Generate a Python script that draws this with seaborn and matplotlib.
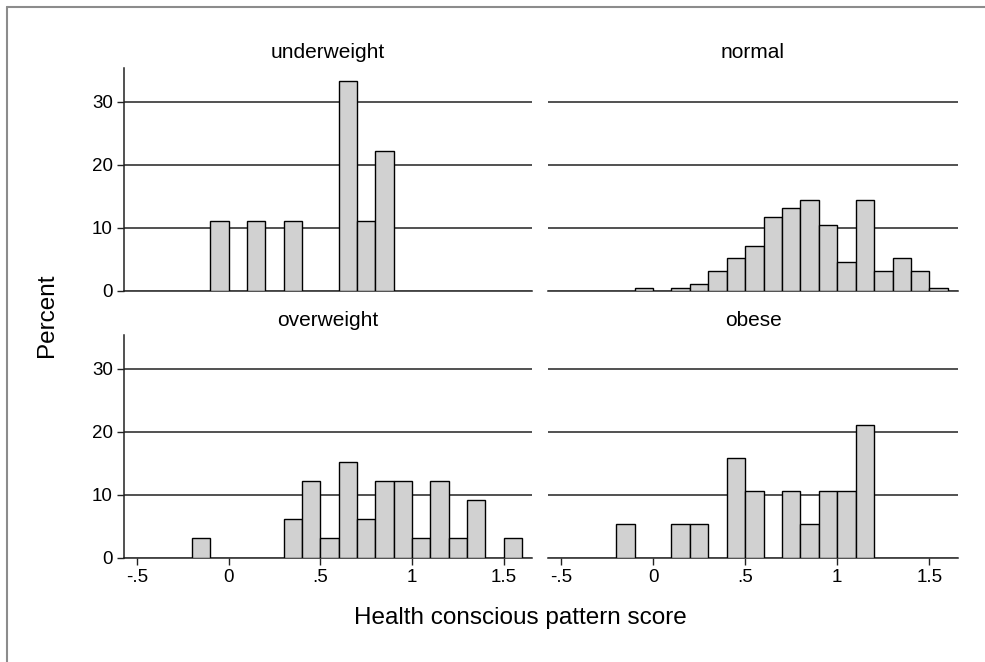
import numpy as np
import pandas as pd
import seaborn as sns
import matplotlib.pyplot as plt
from matplotlib.lines import Line2D

# ---- data (percent per bin; bins of width 0.1, given by left edge) ----
groups = ["underweight", "normal", "overweight", "obese"]

under_left = [-0.1, 0.1, 0.3, 0.6, 0.7, 0.8]
under_pct = [11.11, 11.11, 11.11, 33.33, 11.11, 22.22]

normal_left = [-0.1, 0.1, 0.2, 0.3, 0.4, 0.5, 0.6, 0.7, 0.8, 0.9, 1.0, 1.1, 1.2, 1.3, 1.4, 1.5]
normal_pct = [0.43, 0.43, 1.06, 3.09, 5.16, 7.13, 11.65, 13.2, 14.47, 10.43, 4.57, 14.47, 3.09, 5.16, 3.09, 0.43]

over_left = [-0.2, 0.3, 0.4, 0.5, 0.6, 0.7, 0.8, 0.9, 1.0, 1.1, 1.2, 1.3, 1.5]
over_pct = [3.03, 6.06, 12.12, 3.03, 15.15, 6.06, 12.12, 12.12, 3.03, 12.12, 3.03, 9.09, 3.03]

obese_left = [-0.2, 0.1, 0.2, 0.4, 0.5, 0.7, 0.8, 0.9, 1.0, 1.1]
obese_pct = [5.26, 5.26, 5.26, 15.79, 10.53, 10.53, 5.26, 10.53, 10.53, 21.05]

xticks = [-0.5, 0, 0.5, 1, 1.5]
xticklabels = ["-.5", "0", ".5", "1", "1.5"]
yticks = [0, 10, 20, 30]
yticklabels = ["0", "10", "20", "30"]

rows = []
for g_name, lefts, pcts in [("underweight", under_left, under_pct),
                            ("normal", normal_left, normal_pct),
                            ("overweight", over_left, over_pct),
                            ("obese", obese_left, obese_pct)]:
    for l, p in zip(lefts, pcts):
        rows.append({"group": g_name, "score": l + 0.05, "pct": p})
df = pd.DataFrame(rows)

sns.set_theme(style="white")
plt.rcParams["font.family"] = ["Liberation Sans", "DejaVu Sans"]

g = sns.FacetGrid(df, col="group", col_wrap=2, col_order=groups,
                  sharex=True, sharey=True, despine=False)
g.map_dataframe(sns.histplot, x="score", weights="pct",
                binwidth=0.1, binrange=(-0.6, 1.7),
                color="#d1d1d1", edgecolor="black", linewidth=1.0, alpha=1.0,
                zorder=3)

fig = g.figure
fig.set_size_inches(9.85, 6.62)
W, H = 985, 662

def px_rect(l, t, r, b):
    return [l / W, 1 - b / H, (r - l) / W, (b - t) / H]

positions = {
    "underweight": px_rect(124, 68, 532, 290.5),
    "normal": px_rect(548, 68, 958, 290.5),
    "overweight": px_rect(124, 334.5, 532, 557.5),
    "obese": px_rect(548, 334.5, 958, 557.5),
}
title_y = {"underweight": 52, "normal": 52, "overweight": 320, "obese": 320}

for name, ax in zip(groups, g.axes.flat):
    ax.set_position(positions[name])
    ax.set_xlim(-0.57, 1.655)
    ax.set_ylim(0, 35.4)
    ax.set_title("")
    ax.set_xlabel("")
    ax.set_ylabel("")
    for y in [10, 20, 30]:
        ax.axhline(y, color="#222222", lw=1.1, zorder=1)
    for s in ["top", "right"]:
        ax.spines[s].set_visible(False)
    ax.spines["bottom"].set_color("#222222")
    ax.spines["bottom"].set_linewidth(1.1)
    left_col = name in ("underweight", "overweight")
    bottom_row = name in ("overweight", "obese")
    ax.spines["left"].set_visible(left_col)
    ax.spines["left"].set_color("#222222")
    ax.spines["left"].set_linewidth(1.1)
    ax.tick_params(axis="both", direction="out", length=5, width=1.0,
                   color="#222222", labelsize=13.5, labelcolor="black", pad=3)
    ax.set_yticks(yticks)
    ax.set_xticks(xticks)
    if left_col:
        ax.set_yticklabels(yticklabels)
        ax.tick_params(axis="y", left=True, labelleft=True)
    else:
        ax.tick_params(axis="y", left=False, labelleft=False)
    if bottom_row:
        ax.set_xticklabels(xticklabels)
        ax.tick_params(axis="x", bottom=True, labelbottom=True)
    else:
        ax.tick_params(axis="x", bottom=False, labelbottom=False)
    cx = (positions[name][0] + positions[name][2] / 2)
    fig.text(cx, 1 - title_y[name] / H, name, ha="center", va="center",
             fontsize=15, color="black")

fig.text(47 / W, 1 - 315 / H, "Percent", rotation=90, ha="center", va="center",
         fontsize=17.5, color="black")
fig.text(520 / W, 1 - 618 / H, "Health conscious pattern score", ha="center",
         va="center", fontsize=17.5, color="black")

# light frame (top and left edges)
fig.add_artist(Line2D([7 / W, 1], [1 - 7 / H, 1 - 7 / H], color="#8c8c8c",
                      lw=1.5, transform=fig.transFigure))
fig.add_artist(Line2D([7 / W, 7 / W], [0, 1 - 7 / H], color="#8c8c8c",
                      lw=1.5, transform=fig.transFigure))

fig.savefig("out.png", dpi=100, facecolor="white")
